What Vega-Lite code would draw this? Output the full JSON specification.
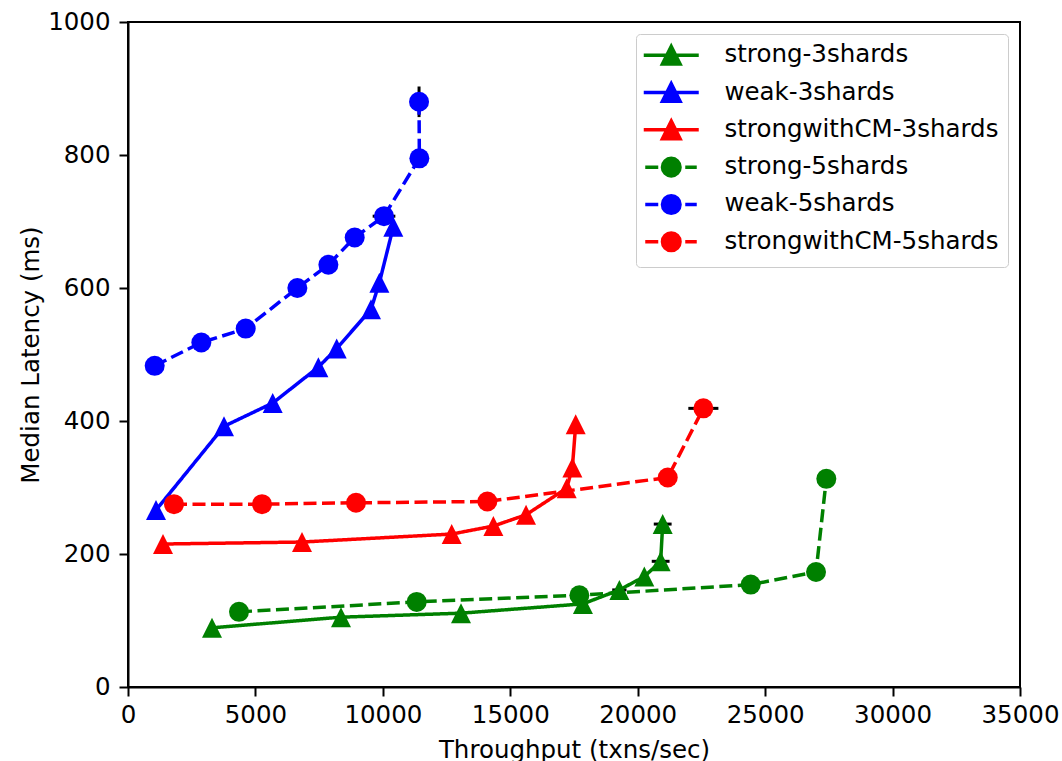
{
  "$schema": "https://vega.github.io/schema/vega-lite/v6.json",
  "autosize": "none",
  "width": 892,
  "height": 665,
  "padding": {"left": 128, "top": 22, "right": 42, "bottom": 74},
  "background": "white",
  "config": {
    "font": "DejaVu Sans",
    "view": {"stroke": "black", "strokeWidth": 2},
    "axis": {
      "domainColor": "black", "domainWidth": 2,
      "tickColor": "black", "tickWidth": 2, "tickSize": 9,
      "labelFont": "DejaVu Sans", "labelFontSize": 24.5, "labelColor": "black",
      "titleFont": "DejaVu Sans", "titleFontSize": 24.5, "titleFontWeight": "normal", "titleColor": "black",
      "grid": false, "labelFlush": false, "labelOverlap": false
    }
  },
  "datasets": {
    "pts": [
      {"s": "strong-3shards", "i": 0, "x": 3296, "y": 89},
      {"s": "strong-3shards", "i": 1, "x": 8358, "y": 105},
      {"s": "strong-3shards", "i": 2, "x": 13067, "y": 111},
      {"s": "strong-3shards", "i": 3, "x": 17850, "y": 125},
      {"s": "strong-3shards", "i": 4, "x": 19280, "y": 146},
      {"s": "strong-3shards", "i": 5, "x": 20260, "y": 166},
      {"s": "strong-3shards", "i": 6, "x": 20900, "y": 189},
      {"s": "strong-3shards", "i": 7, "x": 20980, "y": 245},
      {"s": "weak-3shards", "i": 0, "x": 1099, "y": 266},
      {"s": "weak-3shards", "i": 1, "x": 3767, "y": 392},
      {"s": "weak-3shards", "i": 2, "x": 5678, "y": 427},
      {"s": "weak-3shards", "i": 3, "x": 7469, "y": 481},
      {"s": "weak-3shards", "i": 4, "x": 8188, "y": 509},
      {"s": "weak-3shards", "i": 5, "x": 9535, "y": 568},
      {"s": "weak-3shards", "i": 6, "x": 9863, "y": 608},
      {"s": "weak-3shards", "i": 7, "x": 10411, "y": 692},
      {"s": "strongwithCM-3shards", "i": 0, "x": 1373, "y": 215},
      {"s": "strongwithCM-3shards", "i": 1, "x": 6828, "y": 218},
      {"s": "strongwithCM-3shards", "i": 2, "x": 12701, "y": 230},
      {"s": "strongwithCM-3shards", "i": 3, "x": 14336, "y": 242},
      {"s": "strongwithCM-3shards", "i": 4, "x": 15618, "y": 259},
      {"s": "strongwithCM-3shards", "i": 5, "x": 17214, "y": 299},
      {"s": "strongwithCM-3shards", "i": 6, "x": 17436, "y": 330},
      {"s": "strongwithCM-3shards", "i": 7, "x": 17567, "y": 395},
      {"s": "strong-5shards", "i": 0, "x": 4356, "y": 113},
      {"s": "strong-5shards", "i": 1, "x": 11328, "y": 128},
      {"s": "strong-5shards", "i": 2, "x": 17710, "y": 138},
      {"s": "strong-5shards", "i": 3, "x": 24435, "y": 154},
      {"s": "strong-5shards", "i": 4, "x": 26997, "y": 173},
      {"s": "strong-5shards", "i": 5, "x": 27401, "y": 313},
      {"s": "weak-5shards", "i": 0, "x": 1047, "y": 483},
      {"s": "weak-5shards", "i": 1, "x": 2877, "y": 518},
      {"s": "weak-5shards", "i": 2, "x": 4618, "y": 539},
      {"s": "weak-5shards", "i": 3, "x": 6645, "y": 600},
      {"s": "weak-5shards", "i": 4, "x": 7862, "y": 635},
      {"s": "weak-5shards", "i": 5, "x": 8895, "y": 676},
      {"s": "weak-5shards", "i": 6, "x": 10045, "y": 708},
      {"s": "weak-5shards", "i": 7, "x": 11432, "y": 795},
      {"s": "weak-5shards", "i": 8, "x": 11420, "y": 880},
      {"s": "strongwithCM-5shards", "i": 0, "x": 1805, "y": 275},
      {"s": "strongwithCM-5shards", "i": 1, "x": 5258, "y": 275},
      {"s": "strongwithCM-5shards", "i": 2, "x": 8947, "y": 277},
      {"s": "strongwithCM-5shards", "i": 3, "x": 14100, "y": 279},
      {"s": "strongwithCM-5shards", "i": 4, "x": 21178, "y": 315},
      {"s": "strongwithCM-5shards", "i": 5, "x": 22576, "y": 419}
    ],
    "err": [
      {"xlo": 11420, "xhi": 11420, "ylo": 857, "yhi": 903},
      {"xlo": 9600, "xhi": 10490, "ylo": 708, "yhi": 708},
      {"xlo": 21986, "xhi": 23166, "ylo": 419, "yhi": 419},
      {"xlo": 20550, "xhi": 21250, "ylo": 189, "yhi": 189},
      {"xlo": 20630, "xhi": 21330, "ylo": 245, "yhi": 245},
      {"xlo": 19000, "xhi": 19560, "ylo": 146, "yhi": 146}
    ]
  },
  "layer": [
    {
      "data": {"name": "err"},
      "mark": {"type": "rule", "color": "black", "strokeWidth": 3},
      "encoding": {
        "x": {"field": "xlo", "type": "quantitative", "scale": {"domain": [0, 35000], "nice": false}},
        "x2": {"field": "xhi"},
        "y": {"field": "ylo", "type": "quantitative", "scale": {"domain": [0, 1000], "nice": false}},
        "y2": {"field": "yhi"}
      }
    },
    {
      "data": {"name": "pts"},
      "mark": {"type": "line", "strokeWidth": 3.5},
      "encoding": {
        "x": {"field": "x", "type": "quantitative", "scale": {"domain": [0, 35000], "nice": false},
              "axis": {"values": [0, 5000, 10000, 15000, 20000, 25000, 30000, 35000], "format": "d", "title": "Throughput (txns/sec)", "labelPadding": 7, "titlePadding": 12}},
        "y": {"field": "y", "type": "quantitative", "scale": {"domain": [0, 1000], "nice": false},
              "axis": {"values": [0, 200, 400, 600, 800, 1000], "format": "d", "title": "Median Latency (ms)", "labelPadding": 9, "titlePadding": 4}},
        "color": {"field": "s", "type": "nominal", "legend": null,
                  "scale": {"range": ["#008000", "#008000", "#ff0000", "#ff0000", "#0000ff", "#0000ff"]}},
        "strokeDash": {"field": "s", "type": "nominal", "legend": null,
                       "scale": {"range": [[1, 0], [13, 5.5], [1, 0], [13, 5.5], [1, 0], [13, 5.5]]}},
        "order": {"field": "i", "type": "quantitative"}
      }
    },
    {
      "data": {"name": "pts"},
      "transform": [{"filter": {"field": "s", "oneOf": ["strong-3shards", "weak-3shards", "strongwithCM-3shards"]}}],
      "mark": {"type": "point", "filled": true, "opacity": 1, "size": 400, "shape": "M0,-1L1,1L-1,1Z"},
      "encoding": {
        "x": {"field": "x", "type": "quantitative"},
        "y": {"field": "y", "type": "quantitative"},
        "color": {"field": "s", "type": "nominal", "legend": null}
      }
    },
    {
      "data": {"name": "pts"},
      "transform": [{"filter": {"field": "s", "oneOf": ["strong-5shards", "weak-5shards", "strongwithCM-5shards"]}}],
      "mark": {"type": "point", "filled": true, "opacity": 1, "size": 400, "shape": "circle"},
      "encoding": {
        "x": {"field": "x", "type": "quantitative"},
        "y": {"field": "y", "type": "quantitative"},
        "color": {"field": "s", "type": "nominal", "legend": null}
      }
    },
    {
      "data": {"name": "pts"},
      "transform": [{"filter": "false"}],
      "mark": {"type": "point", "filled": true, "opacity": 1, "size": 400},
      "encoding": {
        "x": {"field": "x", "type": "quantitative"},
        "y": {"field": "y", "type": "quantitative"},
        "color": {"field": "s", "type": "nominal", "legend": null},
        "shape": {"field": "s", "type": "nominal",
                  "scale": {"domain": ["strong-3shards", "weak-3shards", "strongwithCM-3shards", "strong-5shards", "weak-5shards", "strongwithCM-5shards"],
                            "range": [
                              "M-1.35,0H4.15M1.4,-0.88L2.28,0.88L0.52,0.88Z",
                              "M-1.35,0H4.15M1.4,-0.88L2.28,0.88L0.52,0.88Z",
                              "M-1.35,0H4.15M1.4,-0.88L2.28,0.88L0.52,0.88Z",
                              "M-1.2,0H0.1M2.8,0H3.95M2.28,0A0.88,0.88,0,1,1,0.52,0A0.88,0.88,0,1,1,2.28,0Z",
                              "M-1.2,0H0.1M2.8,0H3.95M2.28,0A0.88,0.88,0,1,1,0.52,0A0.88,0.88,0,1,1,2.28,0Z",
                              "M-1.2,0H0.1M2.8,0H3.95M2.28,0A0.88,0.88,0,1,1,0.52,0A0.88,0.88,0,1,1,2.28,0Z"
                            ]},
                  "legend": {
                    "title": null, "orient": "top-right", "offset": 12, "padding": 9, "rowPadding": 4.3,
                    "labelFont": "DejaVu Sans", "labelFontSize": 24.5, "labelColor": "black", "labelOffset": 55, "labelLimit": 400,
                    "symbolSize": 400, "symbolStrokeWidth": 3.5, "symbolOpacity": 1,
                    "symbolFillColor": {"expr": "scale('color', datum.value)"},
                    "symbolStrokeColor": {"expr": "scale('color', datum.value)"},
                    "strokeColor": "#cccccc", "fillColor": "white", "cornerRadius": 4
                  }}
      }
    }
  ]
}
